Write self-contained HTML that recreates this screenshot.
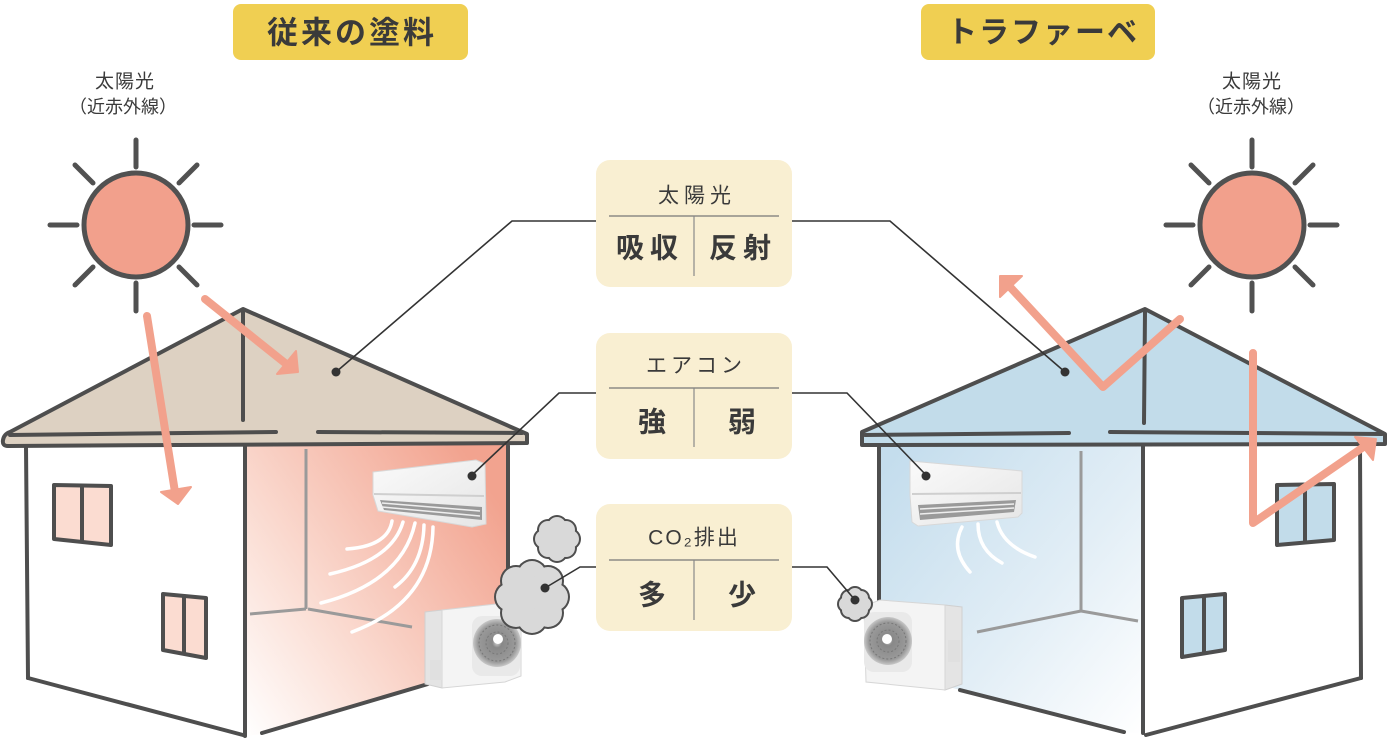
<!DOCTYPE html>
<html><head><meta charset="utf-8">
<style>
html,body{margin:0;padding:0;background:#fff;}
svg{display:block;}
text{font-family:"Liberation Sans","Noto Sans CJK JP",sans-serif;fill:#3a3a3a;}
</style></head>
<body>
<svg width="1387" height="740" viewBox="0 0 1387 740" xmlns="http://www.w3.org/2000/svg">
<defs>
<linearGradient id="pink" x1="0" y1="1" x2="1" y2="0.25">
<stop offset="0" stop-color="#ffffff"/>
<stop offset="0.35" stop-color="#fbe0d7"/>
<stop offset="1" stop-color="#f2a38f"/>
</linearGradient>
<linearGradient id="blue" x1="0" y1="0.1" x2="1" y2="1">
<stop offset="0" stop-color="#c4dded"/>
<stop offset="0.55" stop-color="#e2eef6"/>
<stop offset="1" stop-color="#ffffff"/>
</linearGradient>
<linearGradient id="acg" x1="0" y1="0" x2="1" y2="1">
<stop offset="0" stop-color="#fafafa"/>
<stop offset="1" stop-color="#e6e6e6"/>
</linearGradient>
<radialGradient id="fan" cx="0.5" cy="0.5" r="0.5">
<stop offset="0" stop-color="#cfcfcf"/>
<stop offset="0.2" stop-color="#888"/>
<stop offset="0.8" stop-color="#9a9a9a"/>
<stop offset="1" stop-color="#c8c8c8"/>
</radialGradient>
</defs>

<!-- Titles -->
<rect x="233" y="4" width="235" height="56" rx="8" fill="#f0cf52"/>
<text x="352" y="33" font-size="31" font-weight="bold" text-anchor="middle" dominant-baseline="central" letter-spacing="3">従来の塗料</text>
<rect x="921" y="4" width="234" height="56" rx="8" fill="#f0cf52"/>
<text x="1043" y="33" font-size="30" font-weight="bold" text-anchor="middle" dominant-baseline="central" letter-spacing="2">トラファーベ</text>

<!-- Sun labels -->
<text x="125" y="82" font-size="19" text-anchor="middle" dominant-baseline="central" letter-spacing="1">太陽光</text>
<text x="123" y="107" font-size="18" text-anchor="middle" dominant-baseline="central">（近赤外線）</text>
<text x="1252" y="82" font-size="19" text-anchor="middle" dominant-baseline="central" letter-spacing="1">太陽光</text>
<text x="1251" y="107" font-size="18" text-anchor="middle" dominant-baseline="central">（近赤外線）</text>

<!-- Suns -->
<g stroke="#515151" stroke-width="5" stroke-linecap="round">
<g transform="translate(136,225)">
<circle r="52" fill="#f2a08c"/>
<line x1="0" y1="-85" x2="0" y2="-58"/><line x1="0" y1="58" x2="0" y2="86"/>
<line x1="-86" y1="0" x2="-59" y2="0"/><line x1="58" y1="0" x2="85" y2="0"/>
<line x1="-61" y1="-60" x2="-43" y2="-42"/><line x1="61" y1="-60" x2="43" y2="-42"/>
<line x1="-61" y1="60" x2="-43" y2="42"/><line x1="61" y1="60" x2="43" y2="42"/>
</g>
<g transform="translate(1252,225)">
<circle r="52" fill="#f2a08c"/>
<line x1="0" y1="-85" x2="0" y2="-58"/><line x1="0" y1="58" x2="0" y2="86"/>
<line x1="-86" y1="0" x2="-59" y2="0"/><line x1="58" y1="0" x2="85" y2="0"/>
<line x1="-61" y1="-60" x2="-43" y2="-42"/><line x1="61" y1="-60" x2="43" y2="-42"/>
<line x1="-61" y1="60" x2="-43" y2="42"/><line x1="61" y1="60" x2="43" y2="42"/>
</g>
</g>

<!-- LEFT HOUSE -->
<polygon points="245,445 509,445 509,660 262,734 245,736" fill="url(#pink)"/>
<!-- interior lines -->
<g stroke="#9a9a9a" stroke-width="3" fill="none">
<line x1="306" y1="449" x2="306" y2="609"/>
<line x1="306" y1="609" x2="250" y2="614"/>
<line x1="308" y1="609" x2="412" y2="627"/>
</g>
<!-- roof -->
<path d="M243,309 L527,434 L527,443 L8,446 Q2,446 3,440 Q4,434 10,432 Z" fill="#ddd1c2" stroke="#4e4e4e" stroke-width="4" stroke-linejoin="round"/>
<g stroke="#4e4e4e" stroke-width="4" stroke-linecap="round" fill="none">
<line x1="10" y1="435" x2="276" y2="432"/>
<line x1="318" y1="432" x2="522" y2="433"/>
<line x1="243" y1="312" x2="243" y2="420"/>
<!-- walls -->
<line x1="26" y1="446" x2="28" y2="678"/>
<line x1="28" y1="678" x2="243" y2="735"/>
<line x1="245" y1="446" x2="245" y2="736"/>
<line x1="262" y1="733" x2="428" y2="684"/>
<line x1="508" y1="446" x2="508" y2="620"/>
</g>
<!-- windows left -->
<g stroke="#4e4e4e" stroke-width="4" fill="#fbdcd1" stroke-linejoin="round">
<polygon points="54,485 111,486 111,545 54,539"/>
<line x1="82" y1="485" x2="82" y2="542"/>
<polygon points="163,594 206,598 206,658 163,650"/>
<line x1="184" y1="596" x2="184" y2="654"/>
</g>
<!-- left arrows -->
<g stroke="#f2a18c" stroke-width="8" stroke-linecap="round" fill="#f2a18c">
<line x1="147" y1="316" x2="175" y2="492"/>
<polygon points="161,492 191,487 178,504" stroke-width="2" stroke-linejoin="round"/>
<line x1="205" y1="299" x2="285" y2="363"/>
<polygon points="277,374 298,372 296,351" stroke-width="2" stroke-linejoin="round"/>
</g>

<!-- RIGHT HOUSE -->
<polygon points="879,445 1143,445 1143,734 1124,732 879,669" fill="url(#blue)"/>
<g stroke="#9a9a9a" stroke-width="3" fill="none">
<line x1="1081" y1="451" x2="1081" y2="611"/>
<line x1="1081" y1="611" x2="977" y2="632"/>
<line x1="1081" y1="611" x2="1138" y2="621"/>
</g>
<path d="M1145,309 L862,432 L862,445 L1385,444 L1385,434 Z" fill="#c2dcea" stroke="#4e4e4e" stroke-width="4" stroke-linejoin="round"/>
<g stroke="#4e4e4e" stroke-width="4" stroke-linecap="round" fill="none">
<line x1="865" y1="435" x2="1069" y2="433"/>
<line x1="1110" y1="432" x2="1382" y2="434"/>
<line x1="1145" y1="312" x2="1144" y2="423"/>
<line x1="879" y1="446" x2="879" y2="610"/>
<line x1="960" y1="690" x2="1124" y2="732"/>
<line x1="1143" y1="446" x2="1143" y2="733"/>
<line x1="1146" y1="735" x2="1361" y2="678"/>
<line x1="1360" y1="446" x2="1361" y2="678"/>
</g>
<g stroke="#4e4e4e" stroke-width="4" fill="#c2dcea" stroke-linejoin="round">
<polygon points="1277,485 1334,484 1334,540 1277,545"/>
<line x1="1305" y1="485" x2="1305" y2="542"/>
<polygon points="1182,598 1225,594 1225,650 1182,657"/>
<line x1="1204" y1="596" x2="1204" y2="653"/>
</g>
<!-- right arrows -->
<g stroke="#f2a18c" stroke-width="8" stroke-linecap="round" stroke-linejoin="round" fill="none">
<polyline points="1180,319 1103,387 1011,288"/>
<polyline points="1253,353 1253,523 1362,448"/>
</g>
<g fill="#f2a18c" stroke="#f2a18c" stroke-width="2" stroke-linejoin="round">
<polygon points="1000,276 1022,276 1000,297"/>
<polygon points="1355,437 1376,439 1373,460"/>
</g>

<!-- AIR FLOW -->
<g stroke="#fff" stroke-width="3.5" fill="none" stroke-linecap="round">
<path d="M392,521 Q388,546 347,549"/>
<path d="M403,522 Q392,560 330,574"/>
<path d="M415,523 Q402,582 321,603"/>
<path d="M424,525 Q423,566 395,587"/>
<path d="M433,527 Q432,602 352,632"/>
<path d="M962,527 Q950,550 970,572"/>
<path d="M978,524 Q978,550 1002,563"/>
<path d="M997,522 Q1003,546 1035,557"/>
</g>

<!-- AC indoor left -->
<g>
<polygon points="373,472 476,460 485,464 486,524 472,527 378,511 373,495" fill="url(#acg)" stroke="#d8d8d8" stroke-width="1"/>
<line x1="374" y1="494" x2="484" y2="496" stroke="#cfcfcf" stroke-width="2"/>
<polygon points="380,500 482,507 482,520 384,510" fill="#9a9a9a"/>
<line x1="382" y1="503" x2="480" y2="511" stroke="#eee" stroke-width="1.5"/>
<line x1="382" y1="507" x2="480" y2="516" stroke="#eee" stroke-width="1.5"/>
</g>
<!-- AC indoor right -->
<g>
<polygon points="910,461 1022,471 1022,513 1018,517 918,526 912,522 910,495" fill="url(#acg)" stroke="#d8d8d8" stroke-width="1"/>
<line x1="912" y1="494" x2="1021" y2="493" stroke="#cfcfcf" stroke-width="2"/>
<polygon points="918,505 1016,500 1014,512 920,520" fill="#9a9a9a"/>
<line x1="920" y1="509" x2="1014" y2="504" stroke="#eee" stroke-width="1.5"/>
<line x1="920" y1="514" x2="1014" y2="508" stroke="#eee" stroke-width="1.5"/>
</g>

<!-- Outdoor unit left -->
<g>
<polygon points="425,612 442,610 442,688 425,684" fill="#e4e4e4" stroke="#d0d0d0"/>
<polygon points="442,610 505,603 521,606 521,676 505,682 442,688" fill="#f4f4f4" stroke="#d6d6d6"/>
<rect x="472" y="616" width="48" height="60" rx="10" fill="#e9e9e9"/>
<circle cx="497" cy="643" r="24" fill="url(#fan)"/>
<circle cx="497" cy="643" r="18" fill="none" stroke="#777" stroke-width="1" stroke-dasharray="2 2"/>
<circle cx="497" cy="643" r="11" fill="none" stroke="#777" stroke-width="1" stroke-dasharray="2 2"/>
<circle cx="498" cy="639" r="5" fill="#fff"/>
<rect x="430" y="660" width="12" height="20" fill="#e0e0e0"/>
</g>
<!-- Outdoor unit right -->
<g>
<polygon points="945,605 962,607 962,684 945,690" fill="#e4e4e4" stroke="#d0d0d0"/>
<polygon points="880,600 945,605 945,690 866,682 864,606" fill="#f4f4f4" stroke="#d6d6d6"/>
<rect x="864" y="612" width="48" height="60" rx="10" fill="#e9e9e9"/>
<circle cx="888" cy="641" r="24" fill="url(#fan)"/>
<circle cx="888" cy="641" r="18" fill="none" stroke="#777" stroke-width="1" stroke-dasharray="2 2"/>
<circle cx="888" cy="641" r="11" fill="none" stroke="#777" stroke-width="1" stroke-dasharray="2 2"/>
<circle cx="887" cy="639" r="5" fill="#fff"/>
<rect x="948" y="640" width="12" height="22" fill="#e0e0e0"/>
</g>

<!-- Clouds -->
<g fill="#4e4e4e">
<g transform="translate(557,539)">
<circle r="15"/><circle cx="13" cy="0" r="11"/><circle cx="-13" cy="0" r="11"/><circle cx="0" cy="13" r="11"/><circle cx="0" cy="-13" r="11"/>
<circle cx="9" cy="9" r="11"/><circle cx="-9" cy="9" r="11"/><circle cx="9" cy="-9" r="11"/><circle cx="-9" cy="-9" r="11"/>
</g>
<g transform="translate(532,597)">
<circle r="25"/><circle cx="22" cy="0" r="16"/><circle cx="-22" cy="0" r="16"/><circle cx="0" cy="22" r="16"/><circle cx="0" cy="-22" r="16"/>
<circle cx="16" cy="16" r="16"/><circle cx="-16" cy="16" r="16"/><circle cx="16" cy="-16" r="16"/><circle cx="-16" cy="-16" r="16"/>
</g>
<g transform="translate(855,604)">
<circle r="11"/><circle cx="9" cy="0" r="9"/><circle cx="-9" cy="0" r="9"/><circle cx="0" cy="9" r="9"/><circle cx="0" cy="-9" r="9"/>
<circle cx="6" cy="6" r="9"/><circle cx="-6" cy="6" r="9"/><circle cx="6" cy="-6" r="9"/><circle cx="-6" cy="-6" r="9"/>
</g>
</g>
<g fill="#d9d9d9">
<g transform="translate(557,539)">
<circle r="13"/><circle cx="13" cy="0" r="9"/><circle cx="-13" cy="0" r="9"/><circle cx="0" cy="13" r="9"/><circle cx="0" cy="-13" r="9"/>
<circle cx="9" cy="9" r="9"/><circle cx="-9" cy="9" r="9"/><circle cx="9" cy="-9" r="9"/><circle cx="-9" cy="-9" r="9"/>
</g>
<g transform="translate(532,597)">
<circle r="23"/><circle cx="22" cy="0" r="14"/><circle cx="-22" cy="0" r="14"/><circle cx="0" cy="22" r="14"/><circle cx="0" cy="-22" r="14"/>
<circle cx="16" cy="16" r="14"/><circle cx="-16" cy="16" r="14"/><circle cx="16" cy="-16" r="14"/><circle cx="-16" cy="-16" r="14"/>
</g>
<g transform="translate(855,604)">
<circle r="9"/><circle cx="9" cy="0" r="7"/><circle cx="-9" cy="0" r="7"/><circle cx="0" cy="9" r="7"/><circle cx="0" cy="-9" r="7"/>
<circle cx="6" cy="6" r="7"/><circle cx="-6" cy="6" r="7"/><circle cx="6" cy="-6" r="7"/><circle cx="-6" cy="-6" r="7"/>
</g>
</g>

<!-- Connectors -->
<g stroke="#333" stroke-width="1.6" fill="none">
<polyline points="596,221 512,221 336,372"/>
<polyline points="596,393 559,393 472,475"/>
<polyline points="596,567 580,567 545,588"/>
<polyline points="792,221 890,221 1065,372"/>
<polyline points="792,393 847,393 926,475"/>
<polyline points="792,567 827,567 855,600"/>
</g>
<g fill="#333">
<circle cx="336" cy="372" r="4.5"/>
<circle cx="472" cy="476" r="4.5"/>
<circle cx="545" cy="588" r="4.5"/>
<circle cx="1065" cy="372" r="4.5"/>
<circle cx="926" cy="476" r="4.5"/>
<circle cx="855" cy="600" r="4.5"/>
</g>

<!-- Center boxes -->
<g>
<rect x="596" y="160" width="196" height="127" rx="14" fill="#f9efd2"/>
<line x1="609" y1="216" x2="779" y2="216" stroke="#777" stroke-width="1.2"/>
<line x1="694" y1="216" x2="694" y2="276" stroke="#888" stroke-width="1.2"/>
<text x="697" y="196" font-size="21" text-anchor="middle" dominant-baseline="central" letter-spacing="5">太陽光</text>
<text x="650" y="248" font-size="28" font-weight="bold" text-anchor="middle" dominant-baseline="central" letter-spacing="6">吸収</text>
<text x="743" y="248" font-size="28" font-weight="bold" text-anchor="middle" dominant-baseline="central" letter-spacing="6">反射</text>

<rect x="596" y="333" width="196" height="126" rx="14" fill="#f9efd2"/>
<line x1="609" y1="388" x2="779" y2="388" stroke="#777" stroke-width="1.2"/>
<line x1="694" y1="388" x2="694" y2="447" stroke="#888" stroke-width="1.2"/>
<text x="696" y="366" font-size="21" text-anchor="middle" dominant-baseline="central" letter-spacing="4">エアコン</text>
<text x="652" y="422" font-size="28" font-weight="bold" text-anchor="middle" dominant-baseline="central">強</text>
<text x="742" y="422" font-size="28" font-weight="bold" text-anchor="middle" dominant-baseline="central">弱</text>

<rect x="596" y="504" width="196" height="127" rx="14" fill="#f9efd2"/>
<line x1="609" y1="560" x2="779" y2="560" stroke="#777" stroke-width="1.2"/>
<line x1="694" y1="560" x2="694" y2="620" stroke="#888" stroke-width="1.2"/>
<text x="694" y="538" font-size="21" text-anchor="middle" dominant-baseline="central" letter-spacing="2">CO₂排出</text>
<text x="652" y="595" font-size="28" font-weight="bold" text-anchor="middle" dominant-baseline="central">多</text>
<text x="742" y="595" font-size="28" font-weight="bold" text-anchor="middle" dominant-baseline="central">少</text>
</g>
</svg>
</body></html>
